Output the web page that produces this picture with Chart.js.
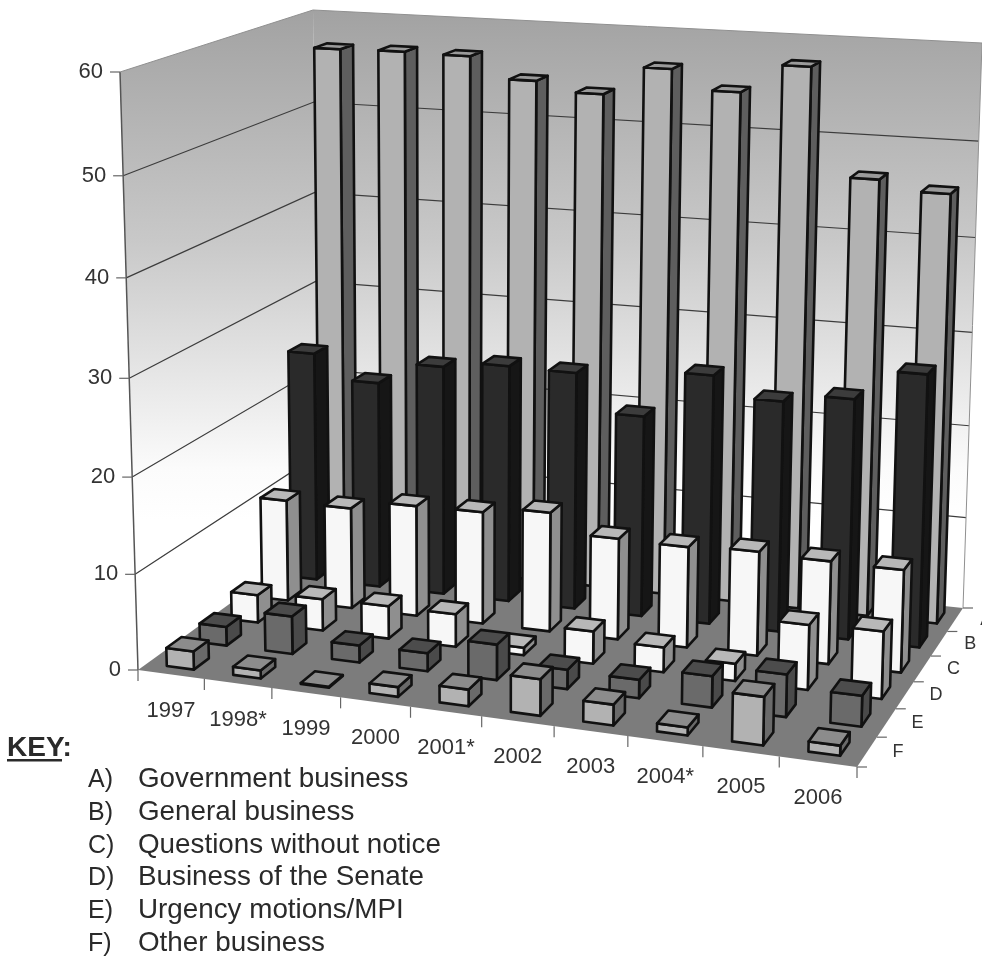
<!DOCTYPE html>
<html><head><meta charset="utf-8">
<style>html,body{margin:0;padding:0;background:#fff}canvas{display:block}</style>
<script src="https://cdn.jsdelivr.net/npm/chart.js@4"></script>
</head><body>
<canvas id="c" width="982" height="956"></canvas>
<script>
const years = ['1997','1998*','1999','2000','2001*','2002','2003','2004*','2005','2006'];
const rows = ['A','B','C','D','E','F'];
const keyNames = ['Government business','General business','Questions without notice','Business of the Senate','Urgency motions/MPI','Other business'];
const yTicks = 10;
const seriesA = [56.8,56.9,56.8,54.6,53.6,56.6,54.6,57.6,46.5,45.5];
const seriesB = [25.3,22.7,25.1,25.8,25.7,21.7,26.7,24.6,25.5,28.7];
const seriesC = [11.1,11,12,12.1,12.8,10.8,10.7,11,10.8,10.7];
const seriesD = [3,3.4,3.5,3.5,0.8,3.4,2.6,1.8,6.7,6.9];
const seriesE = [2,4,1.8,1.9,3.7,2,1.9,3.2,4.3,3.1];
const seriesF = [1.9,0.85,0.1,1,1.7,3.7,2.1,0.8,4.8,1];
const faceColors = ['#b2b2b2','#2a2a2a','#f7f7f7','#f7f7f7','#6a6a6a','#b2b2b2'];
const sideColors = ['#5e5e5e','#161616','#8f8f8f','#8f8f8f','#4a4a4a','#6a6a6a'];
const topColors  = ['#9a9a9a','#3c3c3c','#b8b8b8','#b8b8b8','#4c4c4c','#8c8c8c'];

/* projection of the chart's box: floor and ceiling quadrilaterals */
function quadMap(q){
  const [p0,p1,p2,p3]=q;
  const dx1=p1[0]-p2[0],dx2=p3[0]-p2[0],sx=p0[0]-p1[0]+p2[0]-p3[0];
  const dy1=p1[1]-p2[1],dy2=p3[1]-p2[1],sy=p0[1]-p1[1]+p2[1]-p3[1];
  const den=dx1*dy2-dx2*dy1;
  const g=(sx*dy2-dx2*sy)/den,h=(dx1*sy-sx*dy1)/den;
  const a=p1[0]-p0[0]+g*p1[0],b=p3[0]-p0[0]+h*p3[0],c=p0[0];
  const d=p1[1]-p0[1]+g*p1[1],e=p3[1]-p0[1]+h*p3[1],f=p0[1];
  return (u,v)=>{const k=g*u+h*v+1;return [(a*u+b*v+c)/k,(d*u+e*v+f)/k];};
}
const floorMap = quadMap([[138,670],[857,767],[963,608],[318,540]]);
const topMap   = quadMap([[120,72],[873,119],[982,43],[313,10]]);
function project(u,v,w){
  const uu=u+0.045*u*(1-u);
  const t=w/(1+0.05*(1-w));
  const a=floorMap(uu,v),b=topMap(uu,v);
  return [a[0]+(b[0]-a[0])*t,a[1]+(b[1]-a[1])*t];
}
function poly(ctx,pts,fill,stroke,lw){
  ctx.beginPath();pts.forEach((p,i)=>i?ctx.lineTo(p[0],p[1]):ctx.moveTo(p[0],p[1]));ctx.closePath();
  if(fill){ctx.fillStyle=fill;ctx.fill();}
  if(stroke){ctx.strokeStyle=stroke;ctx.lineWidth=lw;ctx.lineJoin='round';ctx.stroke();}
}
const DEPTH_FRACTION=0.46;
class Bar3D extends Chart.BarController{
  draw(){
    const chart=this.chart,ctx=chart.ctx,area=chart.chartArea;
    const meta=this.getMeta(),ds=this.getDataset();
    const zs=chart.scales.z,ys=chart.scales.y;
    const row=rows.indexOf(ds.rowKey);
    const vc=(zs.bottom-zs.getPixelForValue(row))/zs.height;
    const half=DEPTH_FRACTION/2*(1/rows.length);
    const v0=vc-half,v1=vc+half;
    meta.data.forEach(el=>{
      let uc=(el.x-area.left)/area.width;
      uc+=vc*(0.005+0.0045*uc);
      const hw=el.width/2/area.width;
      const u0=uc-hw,u1=uc+hw;
      const w=(el.base-el.y)/ys.height;
      const a=project(u0,v0,0),b=project(u1,v0,0),c=project(u1,v1,0);
      const A=project(u0,v0,w),B=project(u1,v0,w),C=project(u1,v1,w),D=project(u0,v1,w);
      ctx.save();
      poly(ctx,[b,c,C,B],ds.sideColor,'#111',2.6);
      poly(ctx,[a,b,B,A],ds.backgroundColor,'#111',2.6);
      poly(ctx,[A,B,C,D],ds.topColor,'#111',2.6);
      ctx.restore();
    });
  }
}
Bar3D.id='bar3d';
Bar3D.defaults=Chart.BarController.defaults;
Bar3D.overrides=Chart.BarController.overrides;
Chart.register(Bar3D);

const boxPlugin={
  id:'box',
  beforeDatasetsDraw(chart){
    const ctx=chart.ctx,ys=chart.scales.y,H=ys.height;
    const g=ctx.createLinearGradient(0,10,0,520);
    g.addColorStop(0,'#a2a2a2');g.addColorStop(0.45,'#c8c8c8');g.addColorStop(0.9,'#fbfbfb');g.addColorStop(1,'#ffffff');
    ctx.save();
    ctx.fillStyle='#fff';ctx.fillRect(0,0,chart.width,chart.height);
    poly(ctx,[project(0,0,0),project(0,1,0),project(0,1,1),project(0,0,1)],g);
    poly(ctx,[project(0,1,0),project(1,1,0),project(1,1,1),project(0,1,1)],g);
    poly(ctx,[project(0,0,0),project(1,0,0),project(1,1,0),project(0,1,0)],'#7c7c7c');
    ys.ticks.forEach(t=>{
      const w=(ys.bottom-ys.getPixelForValue(t.value))/H;
      if(w<=0||w>=1)return;
      ctx.beginPath();
      let p=project(0,0,w);ctx.moveTo(p[0],p[1]);
      p=project(0,1,w);ctx.lineTo(p[0],p[1]);
      p=project(1,1,w);ctx.lineTo(p[0],p[1]);
      ctx.strokeStyle='#3c3c3c';ctx.lineWidth=1.2;ctx.stroke();
    });
    // outline
    ctx.beginPath();
    let p=project(0,0,0);ctx.moveTo(p[0],p[1]);p=project(0,0,1);ctx.lineTo(p[0],p[1]);
    ctx.strokeStyle='#555';ctx.lineWidth=1.5;ctx.stroke();
    ctx.beginPath();
    p=project(0,0,1);ctx.moveTo(p[0],p[1]);p=project(0,1,1);ctx.lineTo(p[0],p[1]);p=project(1,1,1);ctx.lineTo(p[0],p[1]);p=project(1,1,0);ctx.lineTo(p[0],p[1]);
    ctx.strokeStyle='#909090';ctx.lineWidth=1;ctx.stroke();
    ctx.restore();
  },
  afterDatasetsDraw(chart){
    const ctx=chart.ctx,xs=chart.scales.x,ys=chart.scales.y,zs=chart.scales.z,area=chart.chartArea;
    ctx.save();
    ctx.fillStyle='#333';ctx.strokeStyle='#666';ctx.lineWidth=1.2;
    ctx.textBaseline='middle';
    // value axis
    ctx.font='22px "Liberation Sans"';ctx.textAlign='right';
    ys.ticks.forEach(t=>{
      const w=(ys.bottom-ys.getPixelForValue(t.value))/ys.height;
      const p=project(0,0,w);
      ctx.beginPath();ctx.moveTo(p[0],p[1]);ctx.lineTo(p[0]-10,p[1]);ctx.stroke();
      ctx.fillText(String(t.value),p[0]-17,p[1]);
    });
    // category axis
    ctx.textAlign='center';
    const n=xs.ticks.length;
    for(let i=0;i<=n;i++){
      const u=i/n;const p=project(u,0,0);
      ctx.beginPath();ctx.moveTo(p[0],p[1]);ctx.lineTo(p[0],p[1]+11);ctx.stroke();
    }
    xs.ticks.forEach((t,i)=>{
      const u=(xs.getPixelForValue(i)-area.left)/area.width;
      const p=project(u,0,0);
      ctx.fillText(t.label,p[0],p[1]+36);
    });
    // depth axis
    ctx.font='18px "Liberation Sans"';
    const m=rows.length;
    for(let i=0;i<=m;i++){
      const p=project(1,i/m,0);
      ctx.beginPath();ctx.moveTo(p[0],p[1]);ctx.lineTo(p[0]+10,p[1]);ctx.stroke();
    }
    zs.ticks.forEach((t,i)=>{
      const v=(zs.bottom-zs.getPixelForValue(i))/zs.height;
      const p=project(1,v,0);
      ctx.fillText(t.label,p[0]+31,p[1]);
    });
    // key
    ctx.textAlign='left';ctx.textBaseline='alphabetic';ctx.fillStyle='#2a2a2a';
    ctx.font='bold 28px "Liberation Sans"';
    ctx.fillText('KEY:',7,756);
    ctx.fillRect(7,759,55,2.5);
    rows.forEach((r,i)=>{
      const y=787+i*32.8;
      ctx.font='25px "Liberation Sans"';
      ctx.fillText(r+')',88,y);
      ctx.font='27.8px "Liberation Sans"';
      ctx.fillText(keyNames[i],138,y);
    });
    ctx.restore();
  }
};
const allSeries=[seriesA,seriesB,seriesC,seriesD,seriesE,seriesF];
new Chart(document.getElementById('c'),{
  type:'bar3d',
  data:{labels:years,datasets:rows.map((r,i)=>({
    label:keyNames[i],rowKey:r,data:allSeries[i],
    backgroundColor:faceColors[i],sideColor:sideColors[i],topColor:topColors[i],
    order:rows.length-i,grouped:false,barPercentage:1,categoryPercentage:0.41
  }))},
  options:{
    responsive:false,animation:false,
    layout:{padding:0},
    plugins:{legend:{display:false},tooltip:{enabled:false}},
    scales:{
      x:{type:'category',offset:true,display:false},
      y:{type:'linear',min:0,max:60,ticks:{stepSize:yTicks},display:false},
      z:{type:'category',axis:'y',position:'left',labels:rows,offset:true,display:false}
    }
  },
  plugins:[boxPlugin]
});
</script>
</body></html>
